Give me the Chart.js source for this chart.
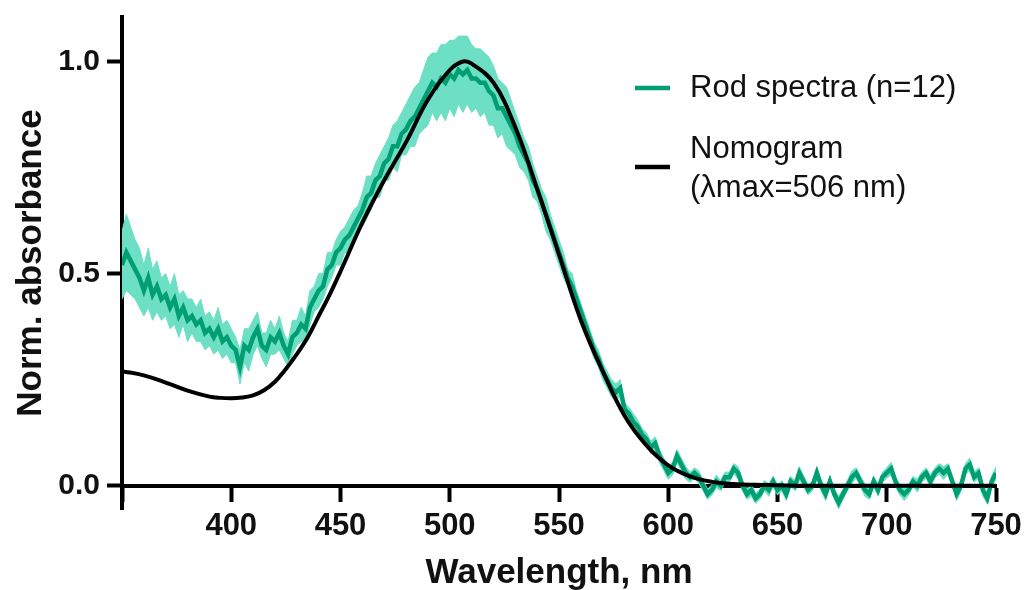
<!DOCTYPE html>
<html lang="en">
  <head>
    <meta charset="UTF-8" />
    <meta name="viewport" content="width=device-width, initial-scale=1.0" />
    <script src="https://cdn.jsdelivr.net/npm/chart.js"></script>
    <title>Rod spectra</title>
    <style>
      html, body { margin: 0; padding: 0; background: #fff; }
      #wrap { width: 1027px; height: 590px; position: relative; }
    </style>
  </head>
  <body>
    <div id="wrap"><canvas id="spectraChart"></canvas></div>
    <script>
      // rod spectra: mean and SEM, sampled every 2 nm from 350 to 750 nm
      const rodMean = [
        0.52, 0.55, 0.53, 0.51, 0.49, 0.46, 0.49, 0.45, 0.47, 0.44,
        0.45, 0.42, 0.44, 0.40, 0.42, 0.39, 0.40, 0.38, 0.39, 0.36,
        0.37, 0.35, 0.37, 0.34, 0.35, 0.33, 0.32, 0.28, 0.33, 0.32,
        0.35, 0.37, 0.33, 0.32, 0.35, 0.34, 0.36, 0.33, 0.31, 0.35,
        0.36, 0.38, 0.37, 0.42, 0.44, 0.46, 0.47, 0.51, 0.52, 0.55,
        0.56, 0.58, 0.59, 0.61, 0.63, 0.65, 0.68, 0.69, 0.72, 0.73,
        0.76, 0.77, 0.80, 0.80, 0.83, 0.84, 0.86, 0.87, 0.89, 0.91,
        0.93, 0.95, 0.94, 0.96, 0.95, 0.97, 0.96, 0.98, 0.97, 0.98,
        0.96, 0.96, 0.95, 0.95, 0.93, 0.92, 0.89, 0.89, 0.87, 0.85,
        0.83, 0.80, 0.78, 0.76, 0.72, 0.70, 0.67, 0.64, 0.61, 0.58,
        0.55, 0.52, 0.49, 0.47, 0.44, 0.41, 0.38, 0.35, 0.32, 0.30,
        0.27, 0.25, 0.23, 0.22, 0.23, 0.18, 0.17, 0.15, 0.14, 0.12,
        0.11, 0.09, 0.10, 0.07, 0.05, 0.03, 0.04, 0.07, 0.05, 0.03,
        0.02, 0.03, 0.02, 0.00, -0.02, -0.01, 0.01, 0.00, 0.02, 0.02,
        0.04, 0.03, 0.00, -0.02, -0.01, -0.03, -0.02, 0.00, -0.01, 0.01,
        -0.01, 0.00, -0.02, 0.01, 0.00, 0.03, 0.01, -0.01, 0.00, 0.03,
        0.00, -0.02, 0.01, -0.02, -0.04, -0.02, 0.00, 0.02, 0.03, 0.01,
        -0.01, -0.02, 0.01, -0.01, 0.02, 0.03, 0.04, 0.01, -0.01, -0.02,
        -0.01, 0.01, 0.00, 0.02, 0.03, 0.01, 0.03, 0.04, 0.03, 0.04,
        0.01, -0.02, 0.00, 0.04, 0.05, 0.02, 0.03, -0.01, -0.03, 0.01,
        0.03
      ];
      const rodSem = [
        0.08, 0.09, 0.08, 0.07, 0.07, 0.06, 0.07, 0.06, 0.06, 0.05,
        0.05, 0.05, 0.06, 0.05, 0.04, 0.05, 0.04, 0.04, 0.05, 0.04,
        0.04, 0.04, 0.05, 0.04, 0.04, 0.04, 0.03, 0.04, 0.04, 0.05,
        0.04, 0.04, 0.03, 0.04, 0.04, 0.03, 0.04, 0.03, 0.03, 0.04,
        0.03, 0.04, 0.03, 0.04, 0.03, 0.04, 0.03, 0.04, 0.03, 0.03,
        0.04, 0.03, 0.04, 0.04, 0.03, 0.04, 0.05, 0.04, 0.04, 0.05,
        0.04, 0.05, 0.05, 0.06, 0.05, 0.06, 0.06, 0.07, 0.06, 0.07,
        0.08, 0.07, 0.08, 0.08, 0.09, 0.08, 0.09, 0.08, 0.09, 0.08,
        0.08, 0.07, 0.08, 0.07, 0.08, 0.07, 0.07, 0.06, 0.07, 0.06,
        0.05, 0.05, 0.04, 0.04, 0.04, 0.03, 0.03, 0.04, 0.03, 0.03,
        0.03, 0.03, 0.02, 0.03, 0.02, 0.02, 0.02, 0.02, 0.02, 0.02,
        0.02, 0.02, 0.02, 0.02, 0.02, 0.015, 0.015, 0.02, 0.015, 0.015,
        0.015, 0.015, 0.015, 0.015, 0.015, 0.015, 0.015, 0.015, 0.015, 0.015,
        0.012, 0.012, 0.015, 0.012, 0.012, 0.012, 0.015, 0.012, 0.012, 0.012,
        0.012, 0.015, 0.012, 0.012, 0.015, 0.012, 0.012, 0.012, 0.015, 0.012,
        0.012, 0.012, 0.015, 0.012, 0.012, 0.015, 0.012, 0.012, 0.012, 0.015,
        0.012, 0.015, 0.012, 0.012, 0.015, 0.012, 0.012, 0.015, 0.012, 0.012,
        0.015, 0.012, 0.012, 0.015, 0.012, 0.012, 0.015, 0.012, 0.012, 0.015,
        0.012, 0.012, 0.015, 0.012, 0.012, 0.015, 0.012, 0.012, 0.015, 0.012,
        0.012, 0.015, 0.012, 0.012, 0.015, 0.012, 0.012, 0.015, 0.012, 0.012,
        0.015
      ];

      // A1 nomogram, lambda max 506 nm
      const nomoNm = [350, 360, 370, 380, 390, 395, 400, 405, 410, 415, 420, 425, 430, 435, 440, 445, 450, 460, 470, 480,
        490, 500, 506, 510, 520, 530, 540, 550, 560, 570, 580, 590, 600, 610, 620, 630, 640, 650, 660, 700, 750];
      const nomoVal = [0.27, 0.26, 0.243, 0.224, 0.21, 0.207, 0.206, 0.208, 0.213, 0.225, 0.245, 0.275, 0.31, 0.35, 0.40, 0.45, 0.505,
        0.62, 0.72, 0.81, 0.91, 0.98, 1.0, 0.995, 0.95, 0.845, 0.70, 0.545, 0.39, 0.27, 0.165, 0.095, 0.048, 0.022, 0.009,
        0.004, 0.002, 0.001, 0, 0, 0];

      const xTicks = [350, 400, 450, 500, 550, 600, 650, 700, 750];
      const yTicks = [0, 0.5, 1.0];

      const legendLabels = ['Rod spectra (n=12)', 'Nomogram\n(\u03bbmax=506 nm)'];

      const rodNm = rodMean.map((_, i) => 350 + 2 * i);
      const toPoints = (ys) => ys.map((y, i) => ({ x: rodNm[i], y: y }));

      const fontFamily = '"Liberation Sans", Arial, sans-serif';
      const green = '#009e73';
      const band = '#6ddfc4';

      // legend drawn at the right of the plot, with a two-line entry
      const sideLegend = {
        id: 'sideLegend',
        afterDraw(chart) {
          const ctx = chart.ctx;
          const entries = [
            { ds: chart.data.datasets[1], top: 88, mark: 88 },
            { ds: chart.data.datasets[0], top: 149, mark: 167 }
          ];
          ctx.save();
          ctx.font = '31px ' + fontFamily;
          ctx.textBaseline = 'middle';
          ctx.fillStyle = '#111';
          entries.forEach((e) => {
            ctx.strokeStyle = e.ds.borderColor;
            ctx.lineWidth = 4.5;
            ctx.beginPath();
            ctx.moveTo(635, e.mark);
            ctx.lineTo(670, e.mark);
            ctx.stroke();
            e.ds.label.split('\n').forEach((t, k) => ctx.fillText(t, 690, e.top + k * 39));
          });
          ctx.restore();
        }
      };

      const ctx = document.getElementById('spectraChart').getContext('2d');
      new Chart(ctx, {
        type: 'line',
        data: {
          datasets: [
            {
              label: legendLabels[1],
              data: nomoNm.map((x, i) => ({ x: x, y: nomoVal[i] })),
              borderColor: '#000',
              borderWidth: 4,
              pointRadius: 0,
              tension: 0.4,
              order: 0
            },
            {
              label: legendLabels[0],
              data: toPoints(rodMean),
              borderColor: green,
              borderWidth: 4.5,
              borderJoin: 'round',
              pointRadius: 0,
              order: 1
            },
            {
              label: 'SEM upper',
              data: toPoints(rodMean.map((m, i) => m + rodSem[i])),
              borderColor: band,
              borderWidth: 1,
              pointRadius: 0,
              fill: false,
              order: 2
            },
            {
              label: 'SEM lower',
              data: toPoints(rodMean.map((m, i) => m - rodSem[i])),
              borderColor: band,
              backgroundColor: band,
              borderWidth: 1,
              pointRadius: 0,
              fill: '-1',
              order: 3
            }
          ]
        },
        options: {
          responsive: true,
          maintainAspectRatio: false,
          animation: false,
          layout: { padding: { left: 0, top: 17, right: 31, bottom: 81 } },
          plugins: {
            legend: { display: false },
            tooltip: { enabled: false }
          },
          scales: {
            x: {
              type: 'linear',
              min: 350,
              max: 750,
              position: { y: 0 },
              afterFit: (s) => { s.height = 81; s.paddingLeft = 0; s.paddingRight = 0; },
              afterBuildTicks: (s) => { s.ticks = xTicks.map((v) => ({ value: v })); },
              ticks: {
                callback: (v) => (v === 350 ? '' : v),
                font: { family: fontFamily, size: 31, weight: 'bold' },
                color: '#111',
                padding: 8,
                maxRotation: 0,
                autoSkip: false
              },
              grid: { drawOnChartArea: false, tickLength: 14, tickWidth: 4, tickColor: '#000' },
              border: { color: '#000', width: 4 },
              title: {
                display: true,
                text: 'Wavelength, nm',
                font: { family: fontFamily, size: 35, weight: 'bold' },
                color: '#111',
                padding: { top: 0, bottom: -28 }
              }
            },
            y: {
              min: -0.055,
              max: 1.105,
              z: 1,
              afterFit: (s) => { s.width = 122; s.paddingTop = 0; s.paddingBottom = 0; },
              afterBuildTicks: (s) => { s.ticks = yTicks.map((v) => ({ value: v })); },
              ticks: {
                callback: (v) => v.toFixed(1),
                font: { family: fontFamily, size: 30, weight: 'bold' },
                color: '#111',
                padding: 7
              },
              grid: { drawOnChartArea: false, tickLength: 15, tickWidth: 4, tickColor: '#000' },
              border: { color: '#000', width: 4 },
              title: {
                display: true,
                text: 'Norm. absorbance',
                font: { family: fontFamily, size: 35, weight: 'bold' },
                color: '#111',
                padding: { top: 10, bottom: 0 }
              }
            }
          }
        },
        plugins: [sideLegend]
      });
    </script>
  </body>
</html>
